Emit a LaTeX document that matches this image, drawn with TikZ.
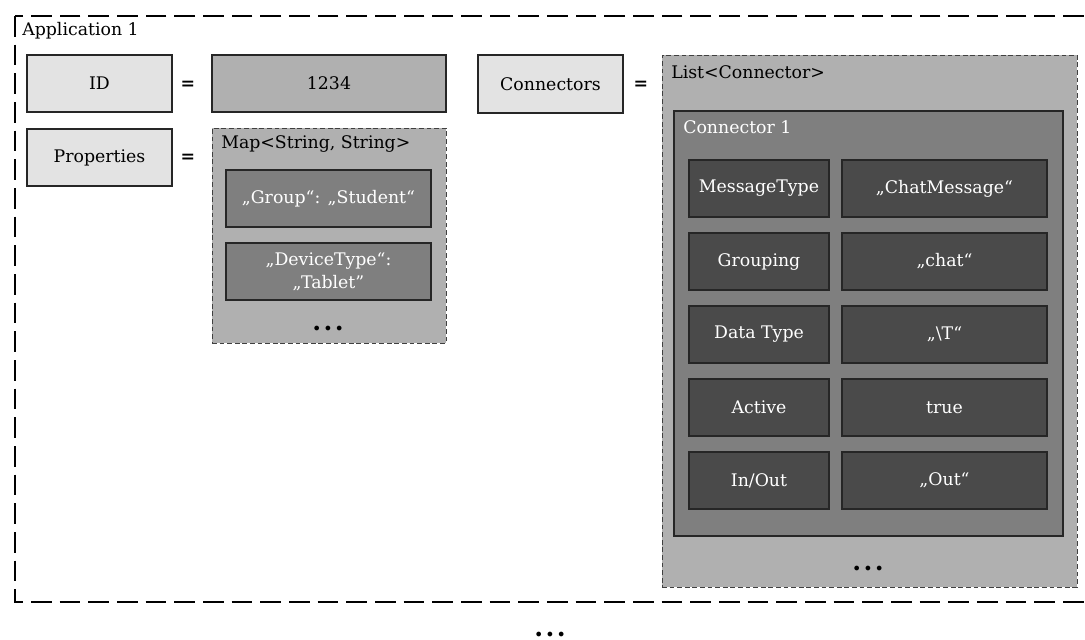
\documentclass[tikz,border=0pt]{standalone}
\usepackage{fontspec}
\setmainfont{DejaVu Serif}

\definecolor{lightbox}{HTML}{E3E3E3}
\definecolor{midbox}{HTML}{B0B0B0}
\definecolor{darkbox}{HTML}{7F7F7F}
\definecolor{deepbox}{HTML}{4A4A4A}
\definecolor{edge}{HTML}{262626}
\definecolor{dashedge}{HTML}{404040}

\newcommand{\mainsize}{\fontsize{13}{17}\selectfont}

\tikzset{
  x=0.75pt, y=-0.75pt,
  every node/.style={font=\mainsize},
  frame/.style={draw=black, line width=1.9pt, dash pattern=on 15.5pt off 6pt},
  boxbase/.style={draw=edge, line width=0.8pt, inner sep=0pt, align=center},
  keybox/.style={boxbase, fill=lightbox},
  valbox/.style={boxbase, fill=midbox},
  collbox/.style={draw=dashedge, fill=midbox, line width=0.75pt,
                  dash pattern=on 3.6pt off 2.1pt, inner sep=0pt},
  entrybox/.style={boxbase, fill=darkbox, text=white},
  fieldbox/.style={boxbase, fill=deepbox, text=white},
  caption/.style={anchor=west, inner sep=0pt},
  eqsign/.style={font=\mainsize\bfseries, inner sep=0pt},
  dots/.style={font=\fontsize{19}{19}\selectfont\bfseries, anchor=base, inner sep=0pt}
}

% rectangle node given by its left, top, right and bottom edges
\newcommand{\boxnode}[7]{%
  \node[#1, minimum width={(#5-#3)*0.75pt}, minimum height={(#6-#4)*0.75pt}]
    (#2) at ({(#3+#5)/2},{(#4+#6)/2}) {#7};}

\newcommand{\ellip}{.\kern1.8pt.\kern1.8pt.}

\begin{document}
\begin{tikzpicture}
  \useasboundingbox (0,0) rectangle (1085,639);
  \clip (0,0) rectangle (1085,639);

  % application frame (runs on past the right edge)
  \draw[frame] (15,16) rectangle (1110,602);
  \node[caption] (app) at (22,31) {Application 1};

  % ID = 1234
  \boxnode{keybox}{id}{27}{55}{172}{112}{ID}
  \node[eqsign] (eq1) at (188,85) {=};
  \boxnode{valbox}{idval}{212}{55}{446}{112}{1234}

  % Properties = Map<String, String>
  \boxnode{keybox}{props}{27}{129}{172}{186}{Properties}
  \node[eqsign] (eq2) at (188,158) {=};
  \boxnode{collbox}{map}{212}{128}{446}{343}{}
  \node[caption] (maptitle) at (221,144) {Map<String, String>};
  \boxnode{entrybox}{entry1}{226}{170}{431}{227}{„Group“: „Student“}
  \boxnode{entrybox}{entry2}{226}{243}{431}{300}{„DeviceType“:\\„Tablet"}
  \node[dots] (mapdots) at (328,330) {\ellip};

  % Connectors = List<Connector>
  \boxnode{keybox}{conns}{478}{55}{623}{113}{Connectors}
  \node[eqsign] (eq3) at (641,85) {=};
  \boxnode{collbox}{list}{662}{55}{1077}{587}{}
  \node[caption] (listtitle) at (671,72) {List<Connector>};
  \boxnode{entrybox}{conn1}{674}{111}{1063}{536}{}
  \node[caption, text=white] (conn1title) at (683,127) {Connector 1};

  % fields of connector 1
  \foreach \i/\key/\val in {1/MessageType/„ChatMessage“,
                            2/Grouping/„chat“,
                            3/Data Type/„\textbackslash T“,
                            4/Active/true,
                            5/In\slash Out/„Out“}{
    \pgfmathsetmacro{\rowtop}{160+73*(\i-1)}
    \pgfmathsetmacro{\rowbot}{\rowtop+57}
    \boxnode{fieldbox}{key\i}{689}{\rowtop}{829}{\rowbot}{\key}
    \boxnode{fieldbox}{val\i}{842}{\rowtop}{1047}{\rowbot}{\val}
  }
  \node[dots] (listdots) at (868,570) {\ellip};

  % further applications
  \node[dots] (moreapps) at (550,636) {\ellip};
\end{tikzpicture}
\end{document}
